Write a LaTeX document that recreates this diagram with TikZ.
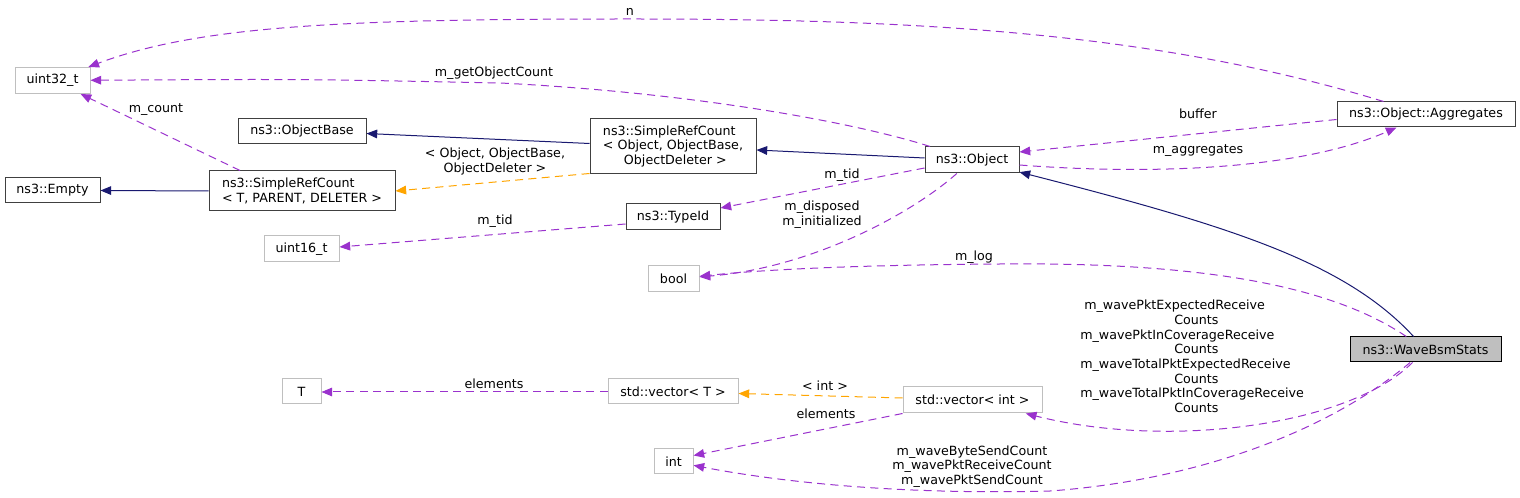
\documentclass[tikz,border=0pt]{standalone}
\usepackage{fontspec}
\setmainfont{DejaVu Sans}
\usetikzlibrary{arrows.meta,calc}
\definecolor{usecol}{HTML}{9A32CD}
\definecolor{inhcol}{HTML}{191970}
\definecolor{tplcol}{HTML}{FFA500}
\definecolor{extcol}{HTML}{BFBFBF}
\definecolor{doccol}{HTML}{404040}
\newcommand{\lblfont}{\fontsize{9.5pt}{11pt}\selectfont}
\begin{document}
\begin{tikzpicture}[x=0.75pt,y=-0.75pt,
  box/.style={line width=0.75pt, inner sep=0pt, align=center, font=\lblfont},
  doc/.style={box, draw=doccol},
  ext/.style={box, draw=extcol},
  lbl/.style={inner sep=0pt, align=center, font=\lblfont},
  tip/.style={-{Triangle[length=8pt,width=6.5pt]}},
  inh/.style={tip, draw=inhcol, line width=0.75pt},
  usage/.style={tip, draw=usecol, line width=0.75pt, dash pattern=on 6pt off 4pt},
  tpl/.style={tip, draw=tplcol, line width=0.75pt, dash pattern=on 6pt off 4pt}]
\useasboundingbox (0,0) rectangle (1520,498);

% nodes
\node[ext, minimum width=56.25pt, minimum height=19.5pt] (u32) at (52.5,80.5) {uint32\_t};
\node[doc, minimum width=96pt, minimum height=18.75pt] (obase) at (302,131.5) {ns3::ObjectBase};
\node[doc, minimum width=71.25pt, minimum height=18.75pt] (empty) at (52.5,190.5) {ns3::Empty};
\node[doc, minimum width=139.5pt, minimum height=30pt, align=left] (srcT) at (302,191) {ns3::SimpleRefCount\\< T, PARENT, DELETER >};
\node[doc, minimum width=124.5pt, minimum height=41.25pt, align=left] (srcO) at (673,146.5) {ns3::SimpleRefCount\\< Object, ObjectBase,\\\hspace*{15.75pt}ObjectDeleter >};
\node[doc, minimum width=70.5pt, minimum height=19.5pt] (obj) at (972,160) {ns3::Object};
\node[doc, minimum width=70.5pt, minimum height=19.5pt] (typeid) at (673,217) {ns3::TypeId};
\node[doc, minimum width=133.5pt, minimum height=18.75pt] (agg) at (1426,114.5) {ns3::Object::Aggregates};
\node[ext, minimum width=56.25pt, minimum height=19.5pt] (u16) at (301.5,249) {uint16\_t};
\node[ext, minimum width=38.25pt, minimum height=19.5pt] (bool) at (673.5,279) {bool};
\node[ext, minimum width=29.25pt, minimum height=18.75pt] (T) at (301.5,391.5) {T};
\node[ext, minimum width=97.5pt, minimum height=18.75pt] (vecT) at (673,391.5) {std::vector< T >};
\node[ext, minimum width=29.25pt, minimum height=18.75pt] (int) at (673.5,461.5) {int};
\node[ext, minimum width=104.25pt, minimum height=19.5pt] (vecInt) at (972.5,400) {std::vector< int >};
\node[doc, draw=black, fill=extcol, minimum width=113.25pt, minimum height=18.75pt] (wave) at (1425.5,349.5) {ns3::WaveBsmStats};

% edges
\draw[usage] (agg) .. controls (1150,30) and (900,19) .. (630,19) .. controls (350,19) and (200,25) .. (u32);
\draw[usage] (obj) .. controls (860,124) and (700,93) .. (500,83) .. controls (300,79) .. (u32);
\draw[usage] ($(srcT.north)+(-62,0)$) -- (u32);
\draw[inh] ($(srcO.west)+(0,-3)$) -- ($(obase.east)+(0,2)$);
\draw[inh] ($(obj.west)+(0,-2)$) -- ($(srcO.east)+(0,3.5)$);
\draw[inh] (srcT.west) -- (empty.east);
\draw[tpl] ($(srcO.south west)+(0,-1)$) -- (srcT.east);
\draw[usage] ($(agg.west)+(0,5)$) -- ($(obj.east)+(0,-8)$);
\draw[usage] ($(obj.east)+(0,5)$) .. controls (1150,175) and (1300,170) .. (agg);
\draw[inh] (wave) .. controls (1345,262) and (1230,226) .. (obj);
\draw[usage] ($(obj.west)+(0,8)$) -- ($(typeid.east)+(0,-9)$);
\draw[usage] ($(typeid.west)+(0,7)$) -- ($(u16.east)+(0,-2)$);
\draw[usage] (obj) .. controls (910,215) and (810,268) .. (bool);
\draw[usage] (wave) .. controls (1330,285) and (1200,262) .. (1000,264) .. controls (850,265) and (760,270) .. (bool);
\draw[usage] ($(vecT.west)+(0,0.5)$) -- ($(T.east)+(0,0.5)$);
\draw[tpl] ($(vecInt.west)+(0,-2)$) -- ($(vecT.east)+(0,2)$);
\draw[usage] (vecInt.south west) -- ($(int.east)+(0,-6)$);
\draw[usage] (wave) .. controls (1350,425) and (1170,450) .. (vecInt);
\draw[usage] (wave) .. controls (1330,430) and (1200,480) .. (1050,491) .. controls (900,495) and (780,482) .. (int);

% labels
\node[lbl] (lN) at (630,12) {n};
\node[lbl] (lGet) at (494,73) {m\_getObjectCount};
\node[lbl] (lCount) at (156,110) {m\_count};
\node[lbl] (lBuf) at (1198,114) {buffer};
\node[lbl] (lAgg) at (1198,151) {m\_aggregates};
\node[lbl] (lTplO) at (495,161.5) {< Object, ObjectBase,\\ObjectDeleter >};
\node[lbl] (lTid1) at (842,175) {m\_tid};
\node[lbl] (lDisp) at (822,214.5) {m\_disposed\\m\_initialized};
\node[lbl] (lTid2) at (495,221) {m\_tid};
\node[lbl] (lLog) at (974,257) {m\_log};
\node[lbl, align=left, anchor=west] (lWave) at (1080,356.5) {\hspace*{3pt}m\_wavePktExpectedReceive\\\hspace*{70.5pt}Counts\\m\_wavePktInCoverageReceive\\\hspace*{70.5pt}Counts\\m\_waveTotalPktExpectedReceive\\\hspace*{70.5pt}Counts\\m\_waveTotalPktInCoverageReceive\\\hspace*{70.5pt}Counts};
\node[lbl] (lElemT) at (494,384) {elements};
\node[lbl] (lTplI) at (825,386) {< int >};
\node[lbl] (lElemI) at (826,414) {elements};
\node[lbl] (lSend) at (972,466.5) {m\_waveByteSendCount\\m\_wavePktReceiveCount\\m\_wavePktSendCount};
\end{tikzpicture}
\end{document}
